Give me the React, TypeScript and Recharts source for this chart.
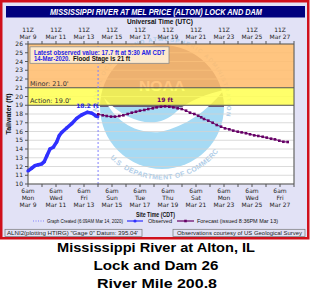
import React from "react";
import { LineChart, Line, XAxis, YAxis, CartesianGrid, ReferenceArea, ReferenceLine, ReferenceDot } from "recharts";

// x values are days since 6am CDT (11Z) Mon Mar 9, 2020
const obsDay = [0, 0.26, 0.5, 0.74, 0.98, 1.16, 1.34, 1.57, 1.81, 2.05, 2.24, 2.41, 2.76, 3.12, 3.48, 3.84, 4.24, 4.55, 4.84, 4.98];
const obsStage = [11.5, 11.8, 12.1, 12.2, 12.3, 12.55, 13.2, 14.0, 14.2, 14.8, 15.55, 15.9, 16.4, 16.9, 17.5, 17.9, 18.2, 18.1, 17.8, 17.7];

const fcstDay = [5.02, 5.34, 5.62, 5.93, 6.21, 6.52, 6.81, 7.12, 7.41, 7.71, 8.0, 8.31, 8.59, 8.91, 9.19, 9.5, 9.79, 10.09, 10.38, 10.69, 10.98, 11.29, 11.57, 11.88, 12.16, 12.37, 12.57, 12.88, 13.19, 13.48, 13.79, 14.07, 14.38, 14.66, 14.98, 15.26, 15.57, 15.86, 16.16, 16.45, 16.76, 17.05, 17.36, 17.64, 17.95, 18.24, 18.55];
const fcstStage = [17.97, 17.85, 17.77, 17.7, 17.7, 17.77, 17.85, 18.0, 18.15, 18.26, 18.38, 18.46, 18.57, 18.65, 18.76, 18.83, 18.87, 18.83, 18.76, 18.65, 18.57, 18.38, 18.15, 18.0, 17.8, 17.62, 17.43, 17.24, 17.0, 16.74, 16.55, 16.36, 16.25, 16.1, 15.98, 15.9, 15.8, 15.68, 15.56, 15.49, 15.4, 15.3, 15.18, 15.1, 14.95, 14.83, 14.8];

const labelDays = [0, 2, 4, 6, 8, 10, 12, 14, 16, 18];
const dateLabels = ["Mar 9", "Mar 11", "Mar 13", "Mar 15", "Mar 17", "Mar 19", "Mar 21", "Mar 23", "Mar 25", "Mar 27"];
const weekdayLabels = ["Mon", "Wed", "Fri", "Sun", "Tue", "Thu", "Sat", "Mon", "Wed", "Fri"];
const dayTicks = [0, 1, 2, 3, 4, 5, 6, 7, 8, 9, 10, 11, 12, 13, 14, 15, 16, 17, 18, 19];
const stageTicks = [10, 11, 12, 13, 14, 15, 16, 17, 18, 19, 20, 21, 22, 23, 24, 25, 26];

const minorStage = 21;
const actionStage = 19;
const graphCreatedDay = 5.00625; // 6:09AM Mar 14

const observed = obsDay.map((d, i) => ({ day: d, stage: obsStage[i] }));
const forecast = fcstDay.map((d, i) => ({ day: d, stage: fcstStage[i] }));
const obsPeak = observed.reduce((a, b) => (b.stage > a.stage ? b : a));
const fcstPeak = forecast.reduce((a, b) => (b.stage > a.stage ? b : a));
const gridDays = Array.from({ length: 39 }, (_, i) => i * 0.5);

const FONT = "'DejaVu Sans', Verdana, sans-serif";
const ARIAL = "'Liberation Sans', Arial, sans-serif";
const LAV = "#E2E2F6";

const renderTopTick = (props: any) => {
  const { x, y, payload } = props;
  const i = labelDays.indexOf(payload.value);
  if (i < 0) return <g />;
  return (
    <g fontFamily={FONT} fontSize={6} fill="#222" textAnchor="middle">
      <text x={x} y={y - 7}>11Z</text>
      <text x={x} y={y}>{dateLabels[i]}</text>
    </g>
  );
};

const renderBottomTick = (props: any) => {
  const { x, y, payload } = props;
  const i = labelDays.indexOf(payload.value);
  if (i < 0) return <g />;
  return (
    <g fontFamily={FONT} fontSize={6} fill="#222" textAnchor="middle">
      <text x={x} y={y + 4}>6am</text>
      <text x={x} y={y + 11}>{weekdayLabels[i]}</text>
      <text x={x} y={y + 18}>{dateLabels[i]}</text>
    </g>
  );
};

const SquareDot = (props: any) => {
  const { cx, cy } = props;
  if (cx == null || cy == null) return <g />;
  return <rect x={cx - 1.3} y={cy - 1.3} width={2.6} height={2.6} fill="#660066" />;
};

// NOAA watermark drawn underneath the plot
const Watermark = () => (
  <svg width={313} height={240} style={{ position: "absolute", left: 0, top: 0 }}>
    <defs>
      <clipPath id="plotClip">
        <rect x={28} y={44} width={266} height={140} />
      </clipPath>
      <path id="arcTop" d="M 99 122 A 65 65 0 1 1 225 122" />
      <path id="arcBottom" d="M 110 158 A 72 72 0 0 0 218 152" />
    </defs>
    <rect x={1.25} y={1.25} width={307} height={237} fill={LAV} stroke="#D0101C" strokeWidth={2.5} />
    <rect x={28} y={44} width={266} height={140} fill="#fff" />
    <g clipPath="url(#plotClip)">
      <path d="M 100 107 A 62 62 0 0 1 224 107 Z" fill="#6a5a7a" />
      <path d="M 100 107 A 62 62 0 0 0 224 107 Z" fill="#A6DAF4" />
      <circle cx={162} cy={107} r={67} fill="none" stroke="#fff" strokeWidth={9} />
      <path d="M 104 98 C 128 124, 158 130, 176 112 C 190 99, 208 94, 224 90 C 206 112, 186 126, 160 132 C 134 134, 114 120, 104 98 Z" fill="#fff" />
    </g>
    <text x={162} y={91} textAnchor="middle" fontFamily={ARIAL} fontWeight="bold" fontSize={15} fill="#fff" textLength={46} lengthAdjust="spacingAndGlyphs">NOAA</text>
    <text fontFamily={ARIAL} fontWeight="bold" fontSize={6} fill="#AFCDE8">
      <textPath href="#arcTop" startOffset="2%" textLength={225} lengthAdjust="spacing">NATIONAL OCEANIC AND ATMOSPHERIC ADMINISTRATION</textPath>
    </text>
    <text fontFamily={ARIAL} fontWeight="bold" fontSize={7} fill="#AFCDE8">
      <textPath href="#arcBottom" startOffset="0" textLength={128} lengthAdjust="spacing">U.S. DEPARTMENT OF COMMERCE</textPath>
    </text>
  </svg>
);

const Overlay = () => (
  <svg width={313} height={294} style={{ position: "absolute", left: 0, top: 0, pointerEvents: "none" }}>
    <rect x={6} y={6} width={299} height={11.5} fill="#00007E" />
    <text x={50} y={15} fontFamily={ARIAL} fontWeight="bold" fontStyle="italic" fontSize={8.5} fill="#fff" textLength={212} lengthAdjust="spacingAndGlyphs">MISSISSIPPI RIVER AT MEL PRICE (ALTON) LOCK AND DAM</text>
    <text x={127} y={23.5} fontFamily={ARIAL} fontWeight="bold" fontSize={7} fill="#111" textLength={66} lengthAdjust="spacingAndGlyphs">Universal Time (UTC)</text>
    <text transform="rotate(-90 11 114)" x={11} y={114} textAnchor="middle" fontFamily={ARIAL} fontWeight="bold" fontSize={7} fill="#111">Tailwater (ft)</text>

    <rect x={30} y={46.8} width={139} height={16.5} fill="#FDE9CC" stroke="#8a8a8a" strokeWidth={0.8} />
    <text x={34} y={54.5} fontFamily={ARIAL} fontWeight="bold" fontSize={6.5} fill="#1E1EE6" textLength={131} lengthAdjust="spacingAndGlyphs">Latest observed value: 17.7 ft at 5:30 AM CDT</text>
    <text x={34} y={60.5} fontFamily={ARIAL} fontWeight="bold" fontSize={6.5} fill="#1E1EE6" textLength={36} lengthAdjust="spacingAndGlyphs">14-Mar-2020.</text>
    <text x={73} y={60.5} fontFamily={ARIAL} fontWeight="bold" fontSize={6.5} fill="#111" textLength={57} lengthAdjust="spacingAndGlyphs">Flood Stage is 21 ft</text>

    <text x={136} y={216.5} fontFamily={ARIAL} fontWeight="bold" fontSize={6.5} fill="#111" textLength={39} lengthAdjust="spacingAndGlyphs">Site Time (CDT)</text>

    <line x1={33} y1={221} x2={45} y2={221} stroke="#8080FF" strokeWidth={1} strokeDasharray="1 1.5" />
    <text x={47} y={223} fontFamily={ARIAL} fontSize={5.5} fill="#111" textLength={76} lengthAdjust="spacingAndGlyphs">Graph Created (6:09AM Mar 14, 2020)</text>
    <line x1={127} y1={221} x2={143} y2={221} stroke="#3030FF" strokeWidth={1.2} />
    <circle cx={135} cy={221} r={1.6} fill="#3030FF" />
    <text x={148} y={223} fontFamily={ARIAL} fontSize={5.5} fill="#111" textLength={24} lengthAdjust="spacingAndGlyphs">Observed</text>
    <line x1={177} y1={221} x2={194} y2={221} stroke="#660066" strokeWidth={1.2} />
    <rect x={184.2} y={219.7} width={2.6} height={2.6} fill="#660066" />
    <text x={197} y={223} fontFamily={ARIAL} fontSize={5.5} fill="#111" textLength={81} lengthAdjust="spacingAndGlyphs">Forecast (issued 8:36PM Mar 13)</text>

    <rect x={5} y={229.3} width={137} height={7.2} fill={LAV} stroke="#777" strokeWidth={0.7} />
    <text x={7} y={235} fontFamily={ARIAL} fontSize={5.2} fill="#222" textLength={131} lengthAdjust="spacingAndGlyphs">ALNI2(plotting HTIRG) "Gage 0" Datum: 395.04'</text>
    <rect x={173} y={229.3} width={132} height={7.2} fill={LAV} stroke="#777" strokeWidth={0.7} />
    <text x={177} y={235} fontFamily={ARIAL} fontSize={5.2} fill="#222" textLength={125} lengthAdjust="spacingAndGlyphs">Observations courtesy of US Geological Survey</text>

    <g fontFamily={ARIAL} fontWeight="bold" fontSize={13.5} fill="#000" textAnchor="middle">
      <text x={156} y={251.5} textLength={198} lengthAdjust="spacingAndGlyphs">Mississippi River at Alton, IL</text>
      <text x={156} y={269.5} textLength={125} lengthAdjust="spacingAndGlyphs">Lock and Dam 26</text>
      <text x={157} y={287.5} textLength={120} lengthAdjust="spacingAndGlyphs">River Mile 200.8</text>
    </g>
  </svg>
);

const App = () => {
  return (
    <div style={{ position: "absolute", left: 0, top: 0, width: 313, height: 294, background: "#fff" }}>
      <Watermark />
      <div style={{ position: "absolute", left: 0, top: 0 }}>
        <LineChart width={313} height={240} margin={{ top: 0, right: 18, bottom: 0, left: 0 }}>
          <CartesianGrid xAxisId="grid" stroke="#D2D2D2" strokeWidth={0.8} />
          <XAxis xAxisId="grid" dataKey="day" type="number" domain={[0, 19]} ticks={gridDays} hide />
          <XAxis
            dataKey="day"
            type="number"
            domain={[0, 19]}
            ticks={dayTicks}
            interval={0}
            height={56}
            tick={renderBottomTick}
            tickSize={3}
            stroke="#555"
          />
          <XAxis
            xAxisId="utc"
            orientation="top"
            dataKey="day"
            type="number"
            domain={[0, 19]}
            ticks={dayTicks}
            interval={0}
            height={44}
            tick={renderTopTick}
            tickSize={3}
            stroke="#555"
          />
          <YAxis
            type="number"
            domain={[10, 26]}
            ticks={stageTicks}
            interval={0}
            width={28}
            tickSize={3}
            stroke="#555"
            tick={{ fontSize: 6, fill: "#222", fontFamily: FONT }}
          />
          <YAxis yAxisId="r" orientation="right" type="number" domain={[10, 26]} width={1} tick={false} tickLine={false} stroke="#555" />
          <ReferenceArea y1={minorStage} y2={26} fill="#FFBD6E" fillOpacity={0.88} stroke="none" />
          <ReferenceArea y1={actionStage} y2={minorStage} fill="#FFFF55" fillOpacity={0.88} stroke="none" />
          <ReferenceLine
            y={minorStage}
            stroke="#555"
            label={{ value: "Minor: 21.0'", position: "insideBottomLeft", offset: 2, fontSize: 6.5, fill: "#333", fontFamily: FONT }}
          />
          <ReferenceLine
            y={actionStage}
            stroke="#555"
            label={{ value: "Action: 19.0'", position: "insideBottomLeft", offset: 2, fontSize: 6.5, fill: "#333", fontFamily: FONT }}
          />
          <ReferenceLine x={graphCreatedDay} stroke="#8080FF" strokeDasharray="2 2" />
          <Line
            data={observed}
            dataKey="stage"
            type="linear"
            stroke="#3030FF"
            strokeWidth={3.5}
            dot={{ r: 1.7, fill: "#3030FF", stroke: "none" }}
            isAnimationActive={false}
          />
          {/* forecast sits on the UTC / right axes (same domains) so those axes carry a series */}
          <Line
            data={forecast}
            xAxisId="utc"
            yAxisId="r"
            dataKey="stage"
            type="linear"
            stroke="#660066"
            strokeWidth={1}
            dot={<SquareDot />}
            isAnimationActive={false}
          />
          <ReferenceDot
            x={obsPeak.day}
            y={obsPeak.stage}
            r={1}
            fill="none"
            stroke="none"
            label={{ value: `${obsPeak.stage.toFixed(1)} ft`, position: "top", offset: 3, fontSize: 6, fontWeight: "bold", fill: "#2525E8", fontFamily: FONT }}
          />
          <ReferenceDot
            xAxisId="utc"
            yAxisId="r"
            x={fcstPeak.day}
            y={fcstPeak.stage}
            r={1}
            fill="none"
            stroke="none"
            label={{ value: `${Math.round(fcstPeak.stage)} ft`, position: "top", offset: 3, fontSize: 6, fontWeight: "bold", fill: "#660066", fontFamily: FONT }}
          />
        </LineChart>
      </div>
      <Overlay />
    </div>
  );
};

export default App;
